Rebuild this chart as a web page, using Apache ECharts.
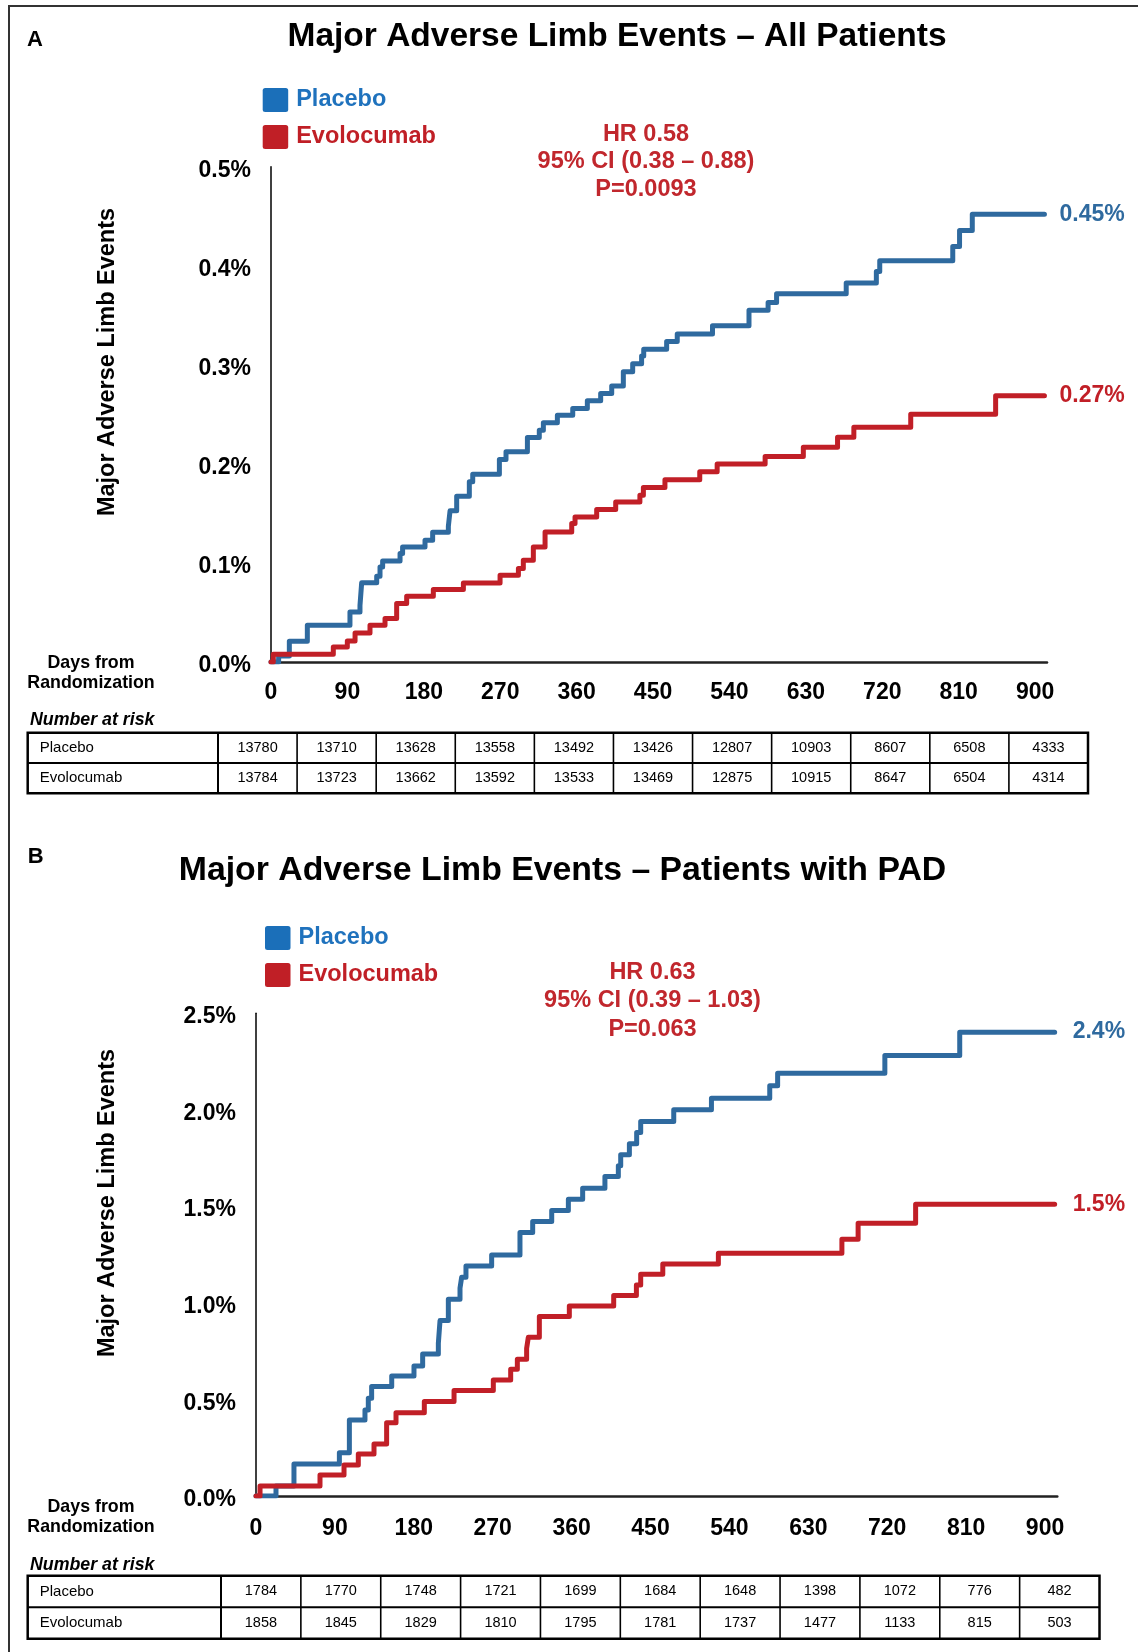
<!DOCTYPE html>
<html>
<head>
<meta charset="utf-8">
<script src="https://cdn.jsdelivr.net/npm/echarts@6/dist/echarts.min.js"></script>
<style>
html,body{margin:0;padding:0;background:#fff;}
#c{width:1138px;height:1652px;}
</style>
</head>
<body>
<div id="c"></div>
<script>
// ---------------- DATA ----------------
const xTicks = [0, 90, 180, 270, 360, 450, 540, 630, 720, 810, 900];
const yTicksA = [0, 0.1, 0.2, 0.3, 0.4, 0.5];
const yTicksB = [0, 0.5, 1.0, 1.5, 2.0, 2.5];

const seriesNames = ['Placebo', 'Evolocumab'];

// Panel A: cumulative incidence (%) – [day, value]
const placeboA = [[0,0],[9,0.006],[21.6,0.021],[42.8,0.037],[93,0.0505],[104.8,0.057],[106.8,0.080],
  [124.5,0.0866],[128.4,0.096],[131.5,0.102],[152,0.1095],[155,0.116],[181.4,0.123],[190.4,0.131],
  [208.9,0.137],[210.9,0.1526],[218.7,0.1674],[233.6,0.182],[237.6,0.1896],[269,0.2044],[276.8,0.2122],
  [302,0.2266],[316,0.234],[320.8,0.2414],[337.3,0.2492],[355.4,0.2559],[372.6,0.2637],[388.3,0.2711],
  [401.3,0.2785],[415,0.293],[426,0.301],[436.5,0.309],[439,0.3157],[466,0.3236],[478.5,0.331],
  [520,0.3394],[563,0.355],[585.5,0.363],[595.5,0.3717],[677.5,0.3825],[713,0.3943],[717,0.405],
  [803,0.4195],[811,0.4357],[826,0.452],[911,0.452]];
const evoA = [[0,0],[2.7,0.0078],[73.4,0.0152],[89.9,0.0212],[99,0.0293],[116.6,0.0371],[134.3,0.0438],
  [148,0.059],[159.8,0.0664],[191.2,0.0731],[226.6,0.0798],[269.8,0.0876],[291.4,0.0943],[297.2,0.1027],
  [309,0.1162],[322.8,0.1313],[354.2,0.1398],[358.1,0.1465],[383.6,0.1539],[406,0.1616],[434.5,0.1684],
  [438.6,0.1761],[464,0.184],[505,0.192],[525.5,0.200],[582,0.2074],[627,0.2168],[667.3,0.227],
  [686.5,0.237],[753.5,0.250],[853.5,0.2687],[911,0.2687]];

// Panel B
const placeboB = [[0,0],[22.8,0.0518],[43.3,0.1658],[95.1,0.2245],[106.5,0.3938],[124.3,0.4456],
  [128.1,0.506],[131.9,0.5665],[154.8,0.6218],[180.2,0.6736],[190.1,0.7358],[208,0.791],[209.9,0.9085],
  [219.4,1.019],[232.7,1.076],[234.6,1.133],[239.5,1.1917],[268.8,1.2487],[301.1,1.3644],[315.6,1.4214],
  [337.3,1.4784],[356.3,1.5371],[372.6,1.5941],[398,1.6546],[413.3,1.7098],[416,1.7668],[425.9,1.8238],
  [434.2,1.8826],[438.8,1.9395],[476.5,2.0],[519.5,2.0604],[586,2.1244],[595,2.19],[717.3,2.2815],
  [802.7,2.4024],[911,2.4024]];
const evoB = [[0,0],[4.6,0.0518],[73,0.1088],[100.4,0.1606],[116.7,0.2176],[134.6,0.2694],[149,0.38],
  [159.7,0.4318],[192,0.4888],[225.9,0.5458],[270.7,0.601],[290.5,0.6563],[298.1,0.7081],[308.7,0.7651],
  [310.6,0.8221],[323.2,0.9292],[357.4,0.9845],[408,1.0388],[433.9,1.093],[438.8,1.148],[464,1.202],
  [527.4,1.2573],[668.3,1.33],[686.8,1.413],[752.4,1.511],[911,1.511]];

const endLabelsA = ['0.45%', '0.27%'];
const endLabelsB = ['2.4%', '1.5%'];

const titleA = 'Major Adverse Limb Events \u2013 All Patients';
const titleB = 'Major Adverse Limb Events \u2013 Patients with PAD';
const statsA = ['HR 0.58', '95% CI (0.38 \u2013 0.88)', 'P=0.0093'];
const statsB = ['HR 0.63', '95% CI (0.39 \u2013 1.03)', 'P=0.063'];
const yName = 'Major Adverse Limb Events';

const riskPlaceboA = [13780,13710,13628,13558,13492,13426,12807,10903,8607,6508,4333];
const riskEvoA = [13784,13723,13662,13592,13533,13469,12875,10915,8647,6504,4314];
const riskPlaceboB = [1784,1770,1748,1721,1699,1684,1648,1398,1072,776,482];
const riskEvoB = [1858,1845,1829,1810,1795,1781,1737,1477,1133,815,503];

// ---------------- STYLE ----------------
const FONT = '"Liberation Sans", Arial, Helvetica, sans-serif';
const BLUE = '#2f6a9f', RED = '#c11f27';
const LEG_BLUE = '#1b6fb9', LEG_BLUE_TXT = '#1f72bd', LEG_RED = '#c01f26';
const HR_RED = '#c1272d';
const ICON = 'path://M2.5,0 H23 A2.5,2.5 0 0 1 25.5,2.5 V21.5 A2.5,2.5 0 0 1 23,24 H2.5 A2.5,2.5 0 0 1 0,21.5 V2.5 A2.5,2.5 0 0 1 2.5,0 Z';

const chart = echarts.init(document.getElementById('c'), null, {renderer: 'canvas'});

function txt(x, y, text, o) {
  o = o || {};
  return {
    type: 'text', x: x, y: y, rotation: o.rotation || 0, silent: true, z: 10,
    style: {
      text: text, fill: o.color || '#000',
      fontSize: o.size || 16, fontWeight: o.weight || 'normal', fontStyle: o.style || 'normal',
      fontFamily: FONT,
      align: o.align || 'left', textAlign: o.align || 'left',
      verticalAlign: 'middle', textVerticalAlign: 'middle'
    }
  };
}
function line(x1, y1, x2, y2, w) {
  return {type: 'line', silent: true, z: 10, shape: {x1: x1, y1: y1, x2: x2, y2: y2},
    style: {stroke: '#000', lineWidth: w}};
}
function table(left, top, firstRight, right, rowH, rowsVals) {
  const els = [];
  const n = rowsVals[0].length;
  const cw = (right - firstRight) / n;
  const h = rowH * rowsVals.length;
  els.push({type: 'rect', silent: true, z: 10, shape: {x: left, y: top, width: right - left, height: h},
    style: {fill: 'none', stroke: '#000', lineWidth: 2.5}});
  for (let r = 1; r < rowsVals.length; r++) els.push(line(left, top + r * rowH, right, top + r * rowH, 2));
  els.push(line(firstRight, top, firstRight, top + h, 2));
  for (let c = 1; c < n; c++) els.push(line(firstRight + c * cw, top, firstRight + c * cw, top + h, 1.6));
  rowsVals.forEach(function (vals, r) {
    const cy = top + r * rowH + rowH / 2;
    els.push(txt(left + 12, cy, seriesNames[r], {size: 15}));
    vals.forEach(function (v, c) {
      els.push(txt(firstRight + c * cw + cw / 2, cy, String(v), {size: 14.5, align: 'center'}));
    });
  });
  return els;
}

const graphics = [];
// outer frame
graphics.push({type: 'rect', silent: true, z: 0, shape: {x: 9, y: 6, width: 1300, height: 1800},
  style: {fill: 'none', stroke: '#333', lineWidth: 2}});
// panel letters & titles
graphics.push(txt(35, 39.5, 'A', {size: 22, weight: 'bold', align: 'center'}));
graphics.push(txt(35.7, 857, 'B', {size: 22, weight: 'bold', align: 'center'}));
graphics.push(txt(617, 37, titleA, {size: 33.5, weight: 'bold', align: 'center'}));
graphics.push(txt(562.5, 871, titleB, {size: 33.8, weight: 'bold', align: 'center'}));
// stats
[134.5, 162, 190].forEach(function (y, i) {
  graphics.push(txt(646, y, statsA[i], {size: 23.5, weight: 'bold', align: 'center', color: HR_RED}));
});
[972.5, 1001, 1029.5].forEach(function (y, i) {
  graphics.push(txt(652.5, y, statsB[i], {size: 23.5, weight: 'bold', align: 'center', color: HR_RED}));
});
// y axis names
graphics.push(txt(108, 362, yName, {size: 23.5, weight: 'bold', align: 'center', rotation: Math.PI / 2}));
graphics.push(txt(108, 1203, yName, {size: 23.5, weight: 'bold', align: 'center', rotation: Math.PI / 2}));
// Days from Randomization
graphics.push(txt(91, 663.5, 'Days from', {size: 17.8, weight: 'bold', align: 'center'}));
graphics.push(txt(91, 683.5, 'Randomization', {size: 17.8, weight: 'bold', align: 'center'}));
graphics.push(txt(91, 1507.5, 'Days from', {size: 17.8, weight: 'bold', align: 'center'}));
graphics.push(txt(91, 1527.5, 'Randomization', {size: 17.8, weight: 'bold', align: 'center'}));
// Number at risk
graphics.push(txt(30, 720, 'Number at risk', {size: 17.8, weight: 'bold', style: 'italic'}));
graphics.push(txt(30, 1565, 'Number at risk', {size: 17.8, weight: 'bold', style: 'italic'}));
// tables
table(27.7, 732.7, 218, 1088, 30.3, [riskPlaceboA, riskEvoA]).forEach(e => graphics.push(e));
table(27.7, 1575.7, 221, 1099.5, 31.5, [riskPlaceboB, riskEvoB]).forEach(e => graphics.push(e));

function xAxisCfg(gi, margin) {
  return {
    type: 'value', gridIndex: gi, min: 0, max: 914,
    axisLine: {show: true, onZero: false, lineStyle: {color: '#222', width: 2.5}},
    axisTick: {show: false}, splitLine: {show: false},
    axisLabel: {customValues: xTicks, margin: margin, fontSize: 23, fontWeight: 'bold', color: '#000', fontFamily: FONT}
  };
}
function yAxisCfg(gi, ticks, shift) {
  return {
    type: 'value', gridIndex: gi, min: ticks[0], max: ticks[ticks.length - 1],
    axisLine: {show: true, lineStyle: {color: '#000', width: 1.5}},
    axisTick: {show: false}, splitLine: {show: false},
    axisLabel: {customValues: ticks,
      formatter: function (v) { return '{v|' + v.toFixed(1) + '%}'; },
      margin: 20,
      rich: {v: {fontSize: 23, fontWeight: 'bold', color: '#000', fontFamily: FONT,
        padding: [shift * 2, 0, 0, 0]}}}
  };
}
function ser(name, gi, data, color, label, dist) {
  return {
    type: 'line', name: name, xAxisIndex: gi, yAxisIndex: gi, data: data, step: 'end',
    symbol: 'none', silent: true, z: 3,
    lineStyle: {color: color, width: 5, cap: 'round', join: 'round'},
    itemStyle: {color: color},
    endLabel: {show: true, formatter: label, color: color, fontSize: 23, fontWeight: 'bold',
      fontFamily: FONT, distance: dist}
  };
}
function legendCfg(left, top) {
  return {
    orient: 'vertical', left: left, top: top, padding: 0, itemWidth: 25.5, itemHeight: 24, itemGap: 13,
    icon: ICON, selectedMode: false,
    textStyle: {fontSize: 23.5, fontWeight: 'bold', fontFamily: FONT, padding: [0, 0, 0, 3]},
    data: [
      {name: seriesNames[0], itemStyle: {color: LEG_BLUE}, textStyle: {color: LEG_BLUE_TXT}},
      {name: seriesNames[1], itemStyle: {color: LEG_RED}, textStyle: {color: LEG_RED}}
    ]
  };
}

chart.setOption({
  animation: false,
  backgroundColor: '#fff',
  grid: [
    {left: 271, top: 166.7, width: 776, height: 495.3},
    {left: 256, top: 1013.3, width: 801.3, height: 482.7}
  ],
  xAxis: [xAxisCfg(0, 19), xAxisCfg(1, 21)],
  yAxis: [yAxisCfg(0, yTicksA, 4), yAxisCfg(1, yTicksB, 3.7)],
  legend: [legendCfg(262.7, 88), legendCfg(265, 926)],
  series: [
    ser(seriesNames[0], 0, placeboA, BLUE, endLabelsA[0], 15),
    ser(seriesNames[1], 0, evoA, RED, endLabelsA[1], 15),
    ser(seriesNames[0], 1, placeboB, BLUE, endLabelsB[0], 18),
    ser(seriesNames[1], 1, evoB, RED, endLabelsB[1], 18)
  ],
  graphic: {elements: graphics}
});
</script>
</body>
</html>
